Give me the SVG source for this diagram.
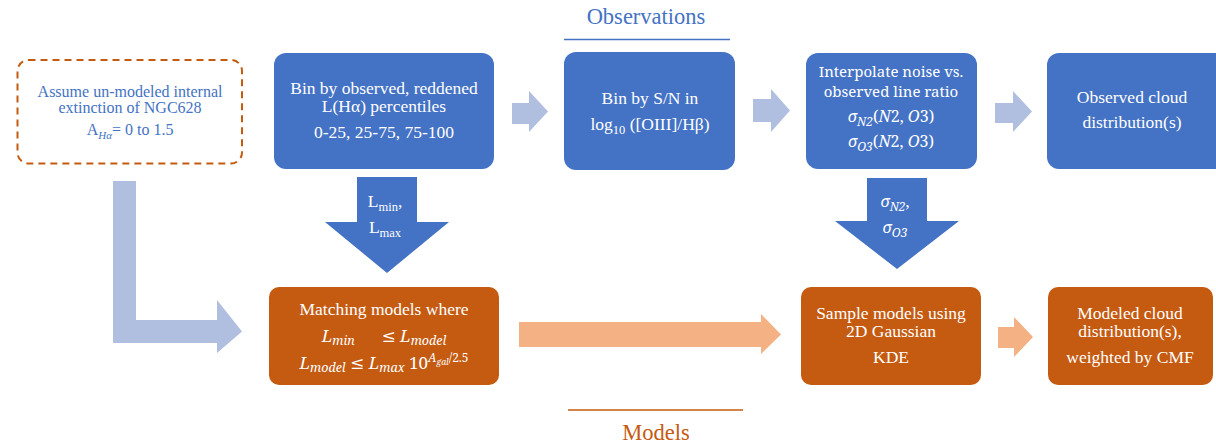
<svg xmlns="http://www.w3.org/2000/svg" width="1216" height="444" viewBox="0 0 1216 444">
  <style>
    text { font-family: 'Liberation Serif', 'Times New Roman', serif; text-anchor: middle; }
    .wt { fill: #ffffff; font-size: 17.5px; }
    .bt { fill: #4472C4; font-size: 16px; }
    .cam { font-family: 'Noto Serif', 'DejaVu Serif', serif; }
    .m { font-family: 'Noto Serif', 'DejaVu Serif', serif; font-style: italic; }
    .blue { fill: #4472C4; }
    .orange { fill: #C55A11; }
    .pale { fill: #B0BEE0; }
    .peach { fill: #F4B183; }
    .head { font-size: 22.5px; }
  </style>

  <!-- section titles -->
  <g id="title-observations">
    <text x="646" y="24" class="head" fill="#4472C4">Observations</text>
    <line x1="564" y1="39.5" x2="730" y2="39.5" stroke="#4472C4" stroke-width="1.5"/>
  </g>
  <g id="title-models">
    <line x1="568" y1="410" x2="743" y2="410" stroke="#C55A11" stroke-width="1.5"/>
    <text x="656" y="440" class="head" fill="#C55A11">Models</text>
  </g>

  <!-- connectors -->
  <g id="connectors">
    <!-- top row, pale block arrows -->
    <polygon class="pale" points="512,103 529,103 529,91 548,111.5 529,132 529,124 512,124"/>
    <polygon class="pale" points="753,99 771,99 771,89 790,110.5 771,132 771,122 753,122"/>
    <polygon class="pale" points="995,103 1013,103 1013,91 1032,111.5 1013,132 1013,123 995,123"/>
    <!-- elbow from the extinction assumption -->
    <polygon class="pale" points="113,181 136,181 136,320 217,320 217,300 242,331.5 217,353 217,343 113,343"/>
    <!-- downward arrows -->
    <polygon class="blue" points="357,177 417,177 417,222 449,222 387,273 325,222 357,222"/>
    <polygon class="blue" points="867,178 927,178 927,221 959,221 897,269 835,221 867,221"/>
    <!-- bottom row, peach block arrows -->
    <polygon class="peach" points="519,322 761,322 761,314 781,334.5 761,354 761,347 519,347"/>
    <polygon class="peach" points="998,327 1014,327 1014,317 1033,337 1014,357 1014,348 998,348"/>
    <g class="wt">
      <text x="385" y="207">L<tspan font-size="12.5" dy="4">min</tspan><tspan dy="-4">,</tspan></text>
      <text x="385" y="233">L<tspan font-size="12.5" dy="4">max</tspan></text>
      <text x="895" y="207" font-size="16"><tspan class="m">σ</tspan><tspan class="m" font-size="12" dy="4">N2</tspan><tspan class="cam" dy="-4">,</tspan></text>
      <text x="895" y="233" font-size="16"><tspan class="m">σ</tspan><tspan class="m" font-size="12" dy="4">O3</tspan></text>
    </g>
  </g>

  <!-- nodes -->
  <g id="extinction">
    <rect x="17.5" y="60" width="224.5" height="103.5" rx="11" fill="#ffffff" stroke="#C55A11" stroke-width="2" stroke-dasharray="7,5"/>
    <g class="bt">
      <text x="130" y="97">Assume un-modeled internal</text>
      <text x="130" y="113">extinction of NGC628</text>
      <text x="130" y="135">A<tspan font-size="11" dy="4" font-style="italic">Hα</tspan><tspan dy="-4">= 0 to 1.5</tspan></text>
    </g>
  </g>

  <g id="bin-luminosity">
    <rect x="274" y="53" width="220" height="116" rx="12" class="blue"/>
    <g class="wt">
      <text x="384" y="94">Bin by observed, reddened</text>
      <text x="384" y="112">L(Hα) percentiles</text>
      <text x="384" y="138">0-25, 25-75, 75-100</text>
    </g>
  </g>

  <g id="bin-sn">
    <rect x="564" y="52" width="171" height="118" rx="12" class="blue"/>
    <g class="wt">
      <text x="650" y="104">Bin by S/N in</text>
      <text x="650" y="130">log<tspan font-size="12.5" dy="4">10</tspan><tspan dy="-4"> ([OIII]/Hβ)</tspan></text>
    </g>
  </g>

  <g id="interpolate-noise">
    <rect x="806" y="53" width="171" height="116" rx="12" class="blue"/>
    <g class="wt">
      <text x="891" y="77" class="cam" font-size="15">Interpolate noise vs.</text>
      <text x="891" y="97" class="cam" font-size="15">observed line ratio</text>
      <text x="891" y="122" font-size="16"><tspan class="m">σ</tspan><tspan class="m" font-size="12" dy="4">N2</tspan><tspan class="cam" dy="-4">(</tspan><tspan class="m">N</tspan><tspan class="cam">2, </tspan><tspan class="m">O</tspan><tspan class="cam">3)</tspan></text>
      <text x="891" y="147" font-size="16"><tspan class="m">σ</tspan><tspan class="m" font-size="12" dy="4">O3</tspan><tspan class="cam" dy="-4">(</tspan><tspan class="m">N</tspan><tspan class="cam">2, </tspan><tspan class="m">O</tspan><tspan class="cam">3)</tspan></text>
    </g>
  </g>

  <g id="observed-distribution">
    <rect x="1047" y="53" width="180" height="116" rx="12" class="blue"/>
    <g class="wt">
      <text x="1132" y="103">Observed cloud</text>
      <text x="1132" y="128">distribution(s)</text>
    </g>
  </g>

  <g id="matching-models">
    <rect x="269" y="287" width="230" height="98" rx="10" class="orange"/>
    <g class="wt">
      <text x="384" y="315">Matching models where</text>
      <text x="384" y="342" font-size="17" xml:space="preserve"><tspan class="m">L</tspan><tspan class="m" font-size="12.5" dy="3">min</tspan><tspan class="cam" dy="-3">      ≤ </tspan><tspan class="m">L</tspan><tspan class="m" font-size="12.5" dy="3">model</tspan></text>
      <text x="384" y="369" font-size="17" xml:space="preserve"><tspan class="m">L</tspan><tspan class="m" font-size="12.5" dy="3">model</tspan><tspan class="cam" dy="-3"> ≤ </tspan><tspan class="m">L</tspan><tspan class="m" font-size="12.5" dy="3">max</tspan><tspan class="cam" dy="-3"> 10</tspan><tspan font-size="12" dy="-7"><tspan class="m">A</tspan><tspan class="m" font-size="8.5" dy="3">gal</tspan><tspan class="cam" dy="-3">/2.5</tspan></tspan></text>
    </g>
  </g>

  <g id="sample-models">
    <rect x="801" y="287" width="180" height="98" rx="10" class="orange"/>
    <g class="wt">
      <text x="891" y="319">Sample models using</text>
      <text x="891" y="337">2D Gaussian</text>
      <text x="891" y="363">KDE</text>
    </g>
  </g>

  <g id="modeled-distribution">
    <rect x="1048" y="287" width="165" height="98" rx="10" class="orange"/>
    <g class="wt">
      <text x="1130" y="319">Modeled cloud</text>
      <text x="1130" y="337">distribution(s),</text>
      <text x="1130" y="363">weighted by CMF</text>
    </g>
  </g>
</svg>
